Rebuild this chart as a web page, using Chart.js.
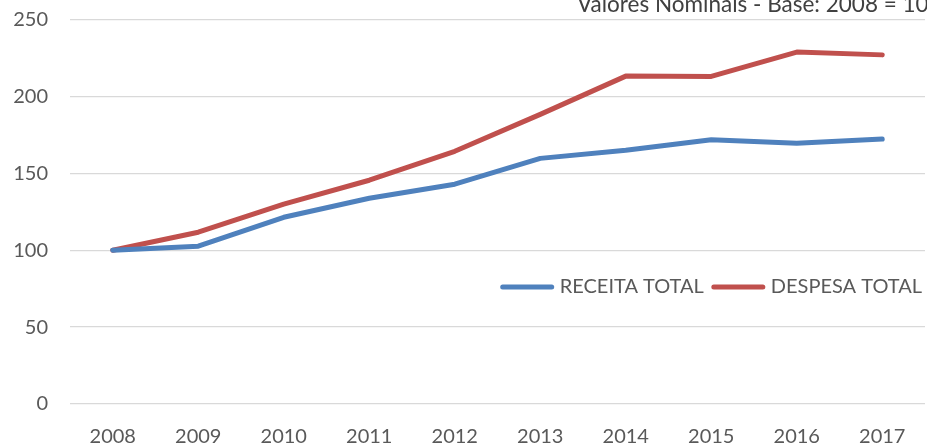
<!DOCTYPE html>
<html>
<head>
<meta charset="utf-8">
<script src="https://cdn.jsdelivr.net/npm/chart.js@4/dist/chart.umd.min.js"></script>
<style>
    html, body { margin: 0; padding: 0; background: #fff; overflow: hidden; }
    #wrap { position: relative; width: 927px; height: 445px; overflow: hidden; }
    #titulo {
        position: absolute; top: -10px; left: 577px;
        font-family: Lato, sans-serif; font-size: 22.5px; color: #404040;
        white-space: nowrap;
    }
</style>
</head>
<body>
<div id="wrap">
    <canvas id="grafico" width="927" height="445"></canvas>
    <div id="titulo">Valores Nominais - Base: 2008 = 100</div>
</div>
<script>
// dados do gráfico
const anos = ['2008', '2009', '2010', '2011', '2012', '2013', '2014', '2015', '2016', '2017'];
const receitaTotal = [100, 102.6, 121.4, 133.8, 142.9, 159.7, 165.0, 171.8, 169.6, 172.3];
const despesaTotal = [100, 111.7, 129.9, 145.5, 164.3, 188.3, 213.2, 213.0, 228.8, 227.0];
const ticksY = [0, 50, 100, 150, 200, 250];

const corTexto = '#595959';
const fonte = { family: 'Lato, sans-serif', size: 20 };

// legenda desenhada dentro da área do gráfico
const legendaInterna = {
    id: 'legendaInterna',
    afterDraw(chart) {
        const ctx = chart.ctx;
        const tamLinha = 55;
        const y = 287;
        let x = 922;
        ctx.save();
        ctx.font = fonte.size + 'px ' + fonte.family;
        ctx.textBaseline = 'middle';
        const itens = chart.data.datasets.slice().reverse();
        itens.forEach((ds) => {
            const w = ctx.measureText(ds.label).width;
            ctx.fillStyle = corTexto;
            ctx.textAlign = 'left';
            ctx.fillText(ds.label, x - w, y);
            x -= w + 5;
            ctx.strokeStyle = ds.borderColor;
            ctx.lineWidth = ds.borderWidth;
            ctx.lineCap = 'round';
            ctx.beginPath();
            ctx.moveTo(x - tamLinha + 3, y);
            ctx.lineTo(x - 3, y);
            ctx.stroke();
            x -= tamLinha + 7;
        });
        ctx.restore();
    }
};

const ctx = document.getElementById('grafico').getContext('2d');
const grafico = new Chart(ctx, {
    type: 'line',
    data: {
        labels: anos,
        datasets: [
            {
                label: 'RECEITA TOTAL',
                data: receitaTotal,
                borderColor: '#4F81BD',
                backgroundColor: '#4F81BD',
                borderWidth: 5,
                borderCapStyle: 'round',
                borderJoinStyle: 'round',
                pointRadius: 0,
                tension: 0
            },
            {
                label: 'DESPESA TOTAL',
                data: despesaTotal,
                borderColor: '#C0504D',
                backgroundColor: '#C0504D',
                borderWidth: 5,
                borderCapStyle: 'round',
                borderJoinStyle: 'round',
                pointRadius: 0,
                tension: 0
            }
        ]
    },
    options: {
        responsive: false,
        animation: false,
        layout: {
            padding: { top: 19.5, right: 2, left: 0, bottom: 0 }
        },
        scales: {
            x: {
                offset: true,
                grid: { display: false, drawTicks: false },
                border: { display: false },
                ticks: {
                    color: corTexto,
                    font: fonte,
                    padding: 21,
                    maxRotation: 0
                },
                afterFit(scale) { scale.height = 41; }
            },
            y: {
                min: 0,
                max: 250,
                afterBuildTicks(scale) {
                    scale.ticks = ticksY.map(v => ({ value: v }));
                },
                grid: { color: '#D9D9D9', lineWidth: 1.3, drawTicks: false },
                border: { display: false },
                ticks: {
                    color: corTexto,
                    font: fonte,
                    padding: 22
                },
                afterFit(scale) {
                    scale.width = 70;
                    // o padding dos ticks não deve empurrar a área do gráfico
                    scale.paddingTop = 0;
                    scale.paddingBottom = 0;
                }
            }
        },
        plugins: {
            legend: { display: false },
            tooltip: { enabled: false }
        }
    },
    plugins: [legendaInterna]
});
</script>
</body>
</html>
